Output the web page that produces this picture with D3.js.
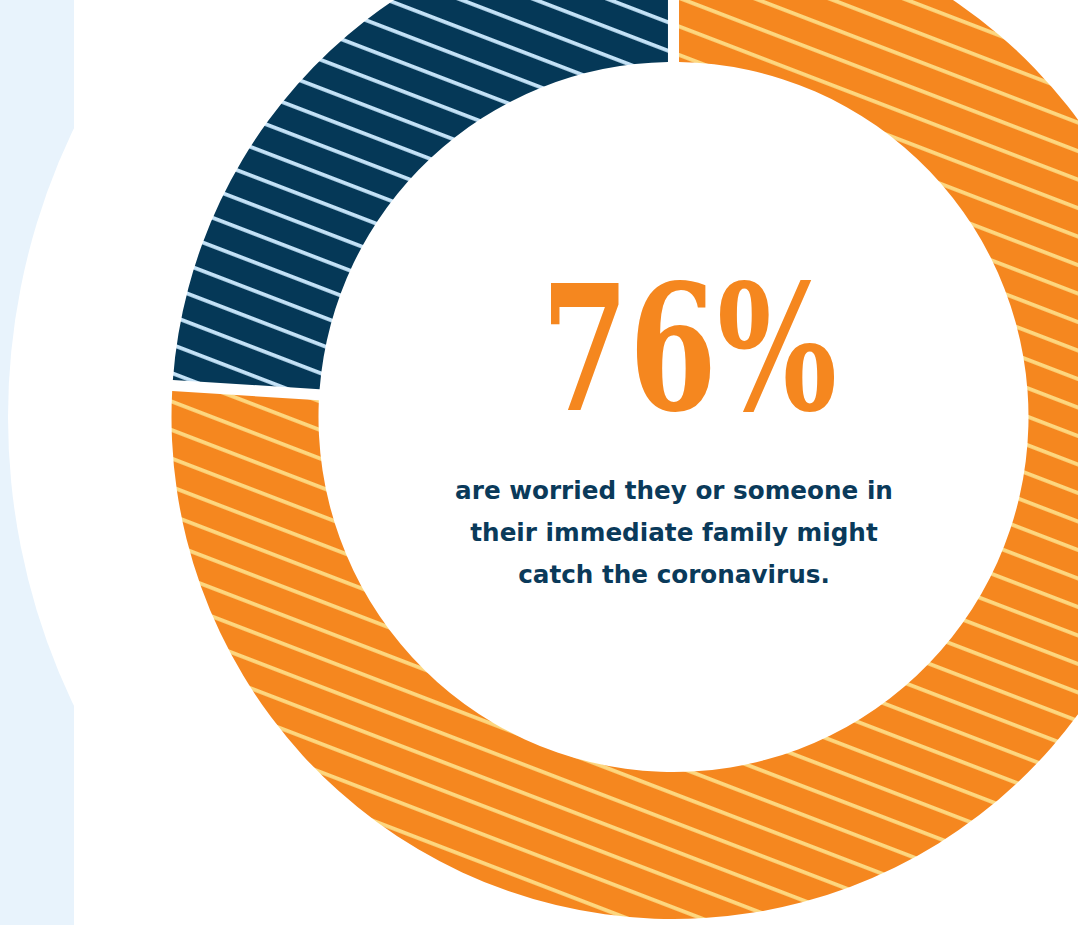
<!DOCTYPE html>
<html>
<head>
<meta charset="utf-8">
<script src="https://cdnjs.cloudflare.com/ajax/libs/d3/7.8.5/d3.min.js"></script>
<style>
  html, body { margin: 0; padding: 0; background: #fff; }
  svg { display: block; }
</style>
</head>
<body>
<svg id="chart" width="1078" height="925"></svg>
<script>
// data
var categories = ['Worried', 'Not worried'];
var values     = [76, 24];
var headline   = '76%';
var caption    = ['are worried they or someone in', 'their immediate family might', 'catch the coronavirus.'];

var colors  = { 'Worried': '#f5871f', 'Not worried': '#053857' };
var hatches = { 'Worried': '#fdd77f', 'Not worried': '#c4e2f7' };

var W = 1078, H = 925;
var cx = 673.5, cy = 417;
var outerR = 502, innerR = 355;
var hatchGap = 26.6, hatchW = 3.8, hatchAngle = 21, hatchPhase = 18.8;

var svg = d3.select('#chart');
var defs = svg.append('defs');

// hatch patterns, drawn in page coords (shifted back from the donut group)
categories.forEach(function (c, i) {
    var p = defs.append('pattern')
        .attr('id', 'hatch' + i)
        .attr('patternUnits', 'userSpaceOnUse')
        .attr('width', 40)
        .attr('height', hatchGap)
        .attr('patternTransform', 'translate(' + (-cx) + ',' + (-cy) + ') rotate(' + hatchAngle + ') translate(0,' + hatchPhase + ')');
    p.append('rect')
        .attr('width', 40).attr('height', hatchGap)
        .attr('fill', colors[c]);
    p.append('rect')
        .attr('width', 40).attr('height', hatchW)
        .attr('fill', hatches[c]);
});

// background panel and big white disc
svg.append('rect')
    .attr('width', 74).attr('height', H)
    .attr('fill', '#e8f3fc');

svg.append('circle')
    .attr('cx', cx).attr('cy', cy)
    .attr('r', 665.5)
    .attr('fill', '#fff');

// donut
var pie = d3.pie().sort(null).value(function (d) { return d; });
var arc = d3.arc()
    .innerRadius(innerR)
    .outerRadius(outerR)
    .padAngle(0.018)
    .padRadius(Math.sqrt(innerR * innerR + outerR * outerR));

var g = svg.append('g').attr('transform', 'translate(' + cx + ',' + cy + ')');

g.selectAll('.slice')
    .data(pie(values))
    .enter().append('path')
    .attr('class', 'slice')
    .attr('d', arc)
    .attr('fill', function (d, i) { return 'url(#hatch' + i + ')'; });

// headline
svg.append('text')
    .attr('x', 689)
    .attr('y', 410)
    .attr('text-anchor', 'middle')
    .attr('font-family', '"DejaVu Serif", "Liberation Serif", serif')
    .attr('font-weight', 'bold')
    .attr('font-size', 174)
    .attr('fill', '#f5871f')
    .attr('textLength', 296)
    .attr('lengthAdjust', 'spacingAndGlyphs')
    .text(headline);

// caption
var lines = svg.append('g')
    .selectAll('text')
    .data(caption)
    .enter().append('text')
    .attr('x', 674)
    .attr('y', function (d, i) { return 499 + i * 42; })
    .attr('text-anchor', 'middle')
    .attr('font-family', '"DejaVu Sans", sans-serif')
    .attr('font-weight', 'bold')
    .attr('font-size', 22)
    .attr('fill', '#0a3a5a')
    .text(function (d) { return d; });

var w0 = lines.node().getComputedTextLength();
lines.attr('font-size', 22 * 438 / w0);
</script>
</body>
</html>
